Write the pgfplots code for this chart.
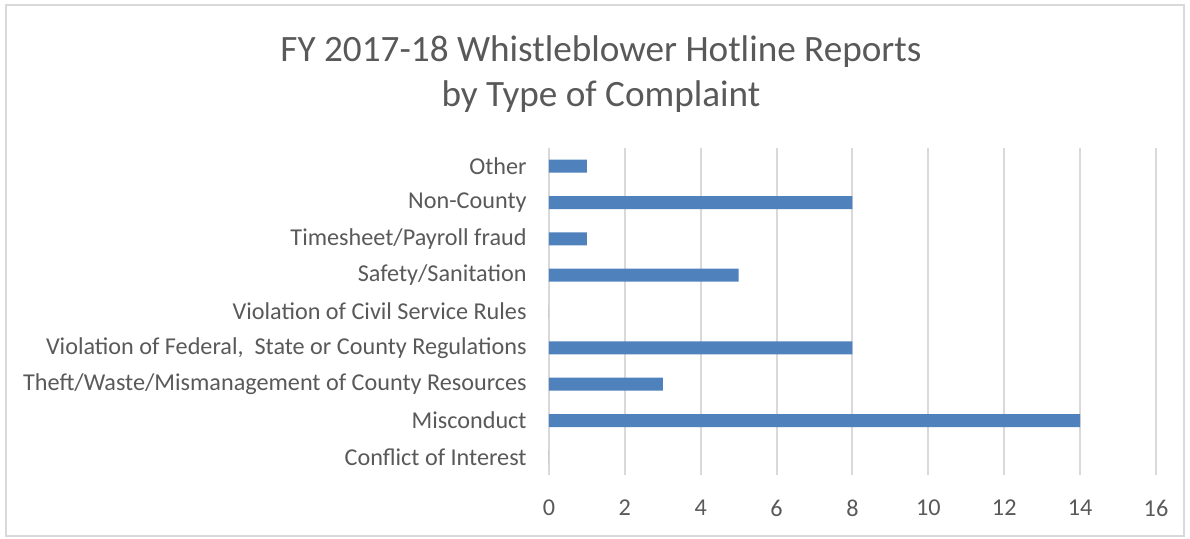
\documentclass[border=0pt]{standalone}
\usepackage{pgfplots}
\pgfplotsset{compat=1.18}
\usepackage{fontspec}
\setmainfont{Carlito}
\definecolor{txt}{HTML}{595959}
\definecolor{gridc}{HTML}{D9D9D9}
\definecolor{barc}{HTML}{4F81BD}
\begin{document}
\begin{tikzpicture}
\useasboundingbox (0,0) rectangle (595pt,269pt);
\draw[gridc,line width=1pt] (3pt,1pt) rectangle (592pt,266.5pt);
\node[txt,font=\fontsize{18.6}{22.5}\selectfont,align=center] at (300.5pt,232pt) {FY 2017-18 Whistleblower Hotline Reports\\by Type of Complaint};
\begin{axis}[
  at={(274.5pt,31.5pt)}, anchor=south west,
  scale only axis, width=303.5pt, height=163.5pt,
  xbar, bar width=6.5pt,
  xmin=0, xmax=16, ymin=-0.5, ymax=8.5,
  xtick={0,2,...,16},
  ytick={0,...,8},
  yticklabels={Conflict of Interest,Misconduct,Theft/Waste/Mismanagement of County Resources,{Violation of Federal,\ \ State or County Regulations},Violation of Civil Service Rules,Safety/Sanitation,Timesheet/Payroll fraud,Non-County,Other},
  axis line style={draw=none},
  major tick length=0pt,
  xmajorgrids=true, ymajorgrids=false,
  x grid style={draw=gridc, line width=1pt},
  tick style={draw=none},
  tick label style={txt, font=\fontsize{12.1}{14}\selectfont},
  yticklabel style={anchor=east, inner sep=0pt, xshift=-11pt},
  xticklabel style={anchor=center, inner sep=0pt, yshift=-16.5pt},
  /pgf/number format/assume math mode=true,
]
\addplot[fill=barc, draw=none] coordinates {(0,0) (14,1) (3,2) (8,3) (0,4) (5,5) (1,6) (8,7) (1,8)};
\end{axis}
\end{tikzpicture}
\end{document}
